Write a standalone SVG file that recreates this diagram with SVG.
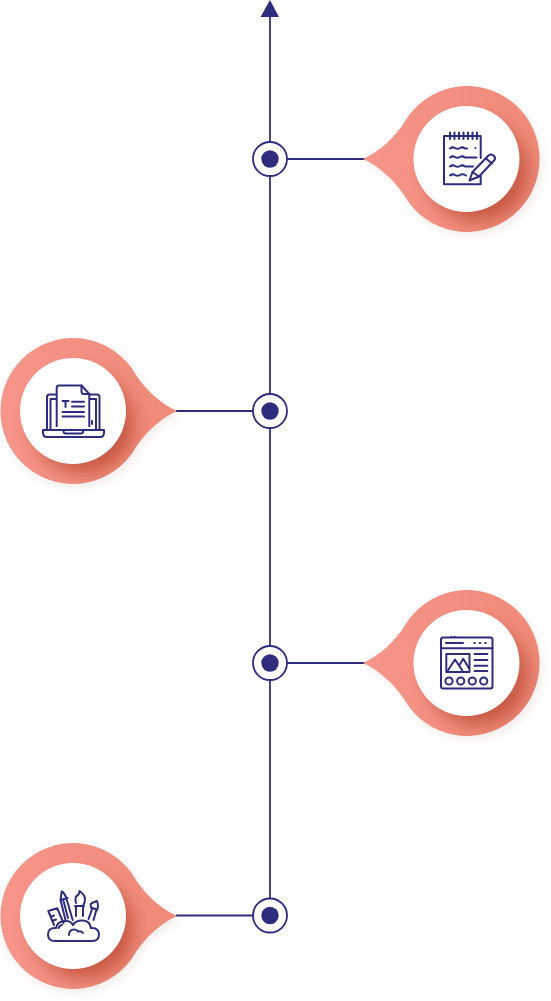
<svg xmlns="http://www.w3.org/2000/svg" width="551" height="1001" viewBox="0 0 551 1001">
<style>
.c{fill:none;stroke:#2e2d7d;stroke-width:1.8}
.d{fill:#fff;stroke:#2e2d7d;stroke-width:1.8}
.i{fill:none;stroke:#2e2d7d;stroke-width:2;stroke-linecap:round;stroke-linejoin:round}
.w{fill:#fff;stroke:#2e2d7d;stroke-width:2;stroke-linejoin:round}
.n{fill:#2e2d7d}
.sh{fill:#b5432c;opacity:.7;filter:url(#b)}
.disc{fill:#fff}
</style>
<defs>
<filter id="b" x="-40%" y="-40%" width="180%" height="180%"><feGaussianBlur stdDeviation="9"/></filter>
<filter id="o" x="-20%" y="-20%" width="140%" height="140%"><feDropShadow dx="3" dy="4" stdDeviation="4" flood-color="#8a4a3a" flood-opacity=".1"/></filter>
<linearGradient id="gr" x1="0" y1="0" x2="1" y2="0"><stop offset="0" stop-color="#f6958a"/><stop offset="1" stop-color="#f08a78"/></linearGradient>
<path id="pr" d="M-104 0C-88 -7 -72 -22 -63 -36A72.500 73 0 1 1 -63 36C-72 22 -88 7 -104 0Z"/>
<path id="pl" d="M104 0C88 -7 72 -22 63 -36A72.500 73 0 1 0 63 36C72 22 88 7 104 0Z"/>
<clipPath id="cr"><use href="#pr"/></clipPath>
<clipPath id="cl"><use href="#pl"/></clipPath>
</defs>

<g id="connectors">
<path class="c" d="M270 899V16" />
<path d="M260.500 17L270 0L279 17Z" class="n"/>
<path class="c" d="M287 159H365M176 411H253M287 663H365M176 915.500H253"/>
</g>

<g id="dot1"><circle class="d" cx="270" cy="159" r="17"/><circle class="n" cx="270" cy="159" r="8.700"/></g>
<g id="dot2"><circle class="d" cx="270" cy="411" r="17"/><circle class="n" cx="270" cy="411" r="8.700"/></g>
<g id="dot3"><circle class="d" cx="270" cy="663" r="17"/><circle class="n" cx="270" cy="663" r="8.700"/></g>
<g id="dot4"><circle class="d" cx="270" cy="915.500" r="17"/><circle class="n" cx="270" cy="915.500" r="8.700"/></g>

<g id="pin1">
<g transform="translate(467 159)">
<use href="#pr" fill="url(#gr)" filter="url(#o)"/>
<g clip-path="url(#cr)"><circle class="sh" cx="11" cy="13" r="50"/></g>
<circle class="disc" cx="-0.500" r="53"/>
</g>
<path class="i" d="M480.700 158V136H444V184.200H480.700V176"/>
<path class="i" d="M450 132.500V139M454.500 132.500V139M459 132.500V139M463.500 132.500V139M468 132.500V139M472.500 132.500V139M477 132.500V139"/>
<path class="i" d="M450 148.500q2.500 -2 5 -.5t5 0t5 .5h2M450 157.500q2.500 -2 5 -.5t5 0t5 .5h11.500M450 166.500q2.500 -2 5 -.5t5 0t5 .5h8M450 175.500q2.500 -2 5 -.5t5 0t6 .5"/>
<path class="n" d="M474.500 147.200h1.800v1.800h-1.800z"/>
<path class="w" d="M469.500 180.500L472.500 172L488.500 155.500Q491 153.500 493.500 155.500T494.500 160L479 176.500Z"/>
<path class="i" d="M472.500 172L479 176.500M486 158.500L492 163.500"/>
</g>

<g id="pin2">
<g transform="translate(73 411)">
<use href="#pl" fill="url(#gr)" filter="url(#o)"/>
<g clip-path="url(#cl)"><circle class="sh" cx="11" cy="13" r="50"/></g>
<circle class="disc" r="53"/>
</g>
<path class="i" d="M56.700 394.500H49.500Q47 394.500 47 397V429M89.300 394.500H97Q99.500 394.500 99.500 397V429"/>
<path class="i" d="M56.700 399H50.500V429M89.300 399H96V429"/>
<path class="i" d="M43 430H104V432.500Q104 437 100 437H47Q43 437 43 432.500Z"/>
<path class="i" d="M63.500 430V431.500Q63.500 433.500 66 433.500H81Q83 433.500 83 431.500V430"/>
<path class="w" d="M56.700 427V388Q56.700 385.500 59 385.500H81.500L89.300 394V427"/>
<path class="i" d="M81.500 385.500V391.500Q81.500 394 84 394H89.300"/>
<path class="i" d="M62.500 401H68.500M65.500 401V407M72 401.700H84M72 406.500H84M62.500 412H84M62.500 416.500H84"/>
<path class="i" d="M92 421V424"/>
</g>

<g id="pin3">
<g transform="translate(467 663)">
<use href="#pr" fill="url(#gr)" filter="url(#o)"/>
<g clip-path="url(#cr)"><circle class="sh" cx="11" cy="13" r="50"/></g>
<circle class="disc" cx="-0.500" r="53"/>
</g>
<rect class="i" x="441" y="637.500" width="51.500" height="51" rx="2"/>
<path class="i" d="M441 648.300H492.500M446 643H463"/>
<path class="n" d="M450.500 636h1.800v2h-1.800zM453.800 636h1.800v2h-1.800z"/>
<path class="n" d="M473.500 642h2v2h-2zM479 642h2v2h-2zM484.500 642h2v2h-2z"/>
<rect class="i" x="446.300" y="654" width="23.200" height="18"/>
<path class="i" d="M447.700 670.700L455 659.500L462.500 670.700M459.500 665L463.300 658.700L468.800 668"/>
<path class="i" d="M474.500 654H487.300M474.500 660H487.300M474.500 665.700H487.300M474.500 671H487.300"/>
<circle class="i" cx="449" cy="681" r="3.600"/><circle class="i" cx="460.700" cy="681" r="3.600"/><circle class="i" cx="472.300" cy="681" r="3.600"/><circle class="i" cx="483.700" cy="681" r="3.600"/>
</g>

<g id="pin4">
<g transform="translate(73 916)">
<use href="#pl" fill="url(#gr)" filter="url(#o)"/>
<g clip-path="url(#cl)"><circle class="sh" cx="11" cy="13" r="50"/></g>
<circle class="disc" r="53"/>
</g>
<path class="i" d="M54 925L48.300 911L57.300 908.300L63.500 923M51.500 916.500L54 915.500M53.500 920.500L56 919.500"/>
<path class="i" d="M65.500 920L60.500 900L61.700 891.500Q63.500 892 66 897L72.700 920M60.500 900L67.500 898M63.500 901L68 918"/>
<path class="i" d="M76 916V906H83V916M75 906H84M76 903Q74 897 78 895Q79.500 893.500 79.500 891Q85 895 85 899Q85 903 83 906"/>
<path class="i" d="M88.500 919L92.500 908L96.500 909.500L93.500 920M91.500 908.500Q89.500 904 92 903L97 901Q99 906 97 910"/>
<path class="i" d="M55 941Q48 941 48 934.500Q48 928 55 928H56Q57 921 66 921Q71 921 73 925Q76 920 83 920.500Q90 921 91 928H92Q99 928 99 934.500Q99 941 92 941Z"/>
<path class="i" d="M69 935Q69 929.500 74 929.500Q77 929.500 78 931.500Q81 930.500 83 933"/>
<path class="i" d="M58.500 928Q60 925 62 925"/>
</g>
</svg>
